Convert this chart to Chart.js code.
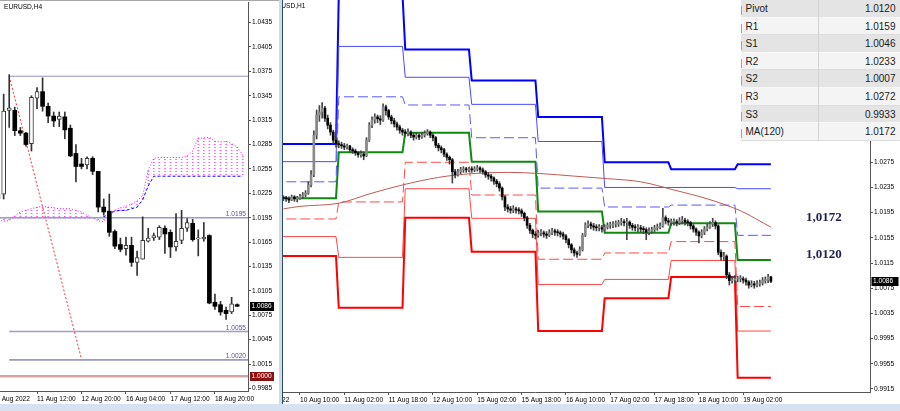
<!DOCTYPE html>
<html lang="en">
<head>
<meta charset="utf-8">
<title>EURUSD H4 / H1 pivot levels</title>
<script src="https://cdn.jsdelivr.net/npm/chart.js@4.4.1/dist/chart.umd.min.js"></script>
<style>
    html, body { margin: 0; padding: 0; }
    body { position: relative; width: 900px; height: 411px; overflow: hidden; background: #fff; font-family: "Liberation Sans", Arial, sans-serif; }
    canvas { display: block; }
    .panel { position: absolute; top: 0; height: 404px; }
    #h1Panel { left: 200px; width: 700px; z-index: 1; }
    #h4Panel { left: 0; width: 279px; background: #fff; z-index: 2; }
    #h4Top { position: absolute; left: 0; top: 0; width: 279px; height: 1px; background: #a8a8a8; z-index: 3; }
    #split { position: absolute; left: 279px; top: 0; width: 3px; height: 404px; background: #cfdbe7; z-index: 3; }
    #splitEdge { position: absolute; left: 282px; top: 0; width: 1px; height: 404px; background: #2d4e70; z-index: 3; }
    #frameBottom { position: absolute; left: 0; top: 404px; width: 900px; height: 7px; background: #d6e2ef; z-index: 3; }
    #levels { position: absolute; left: 741px; top: 0; width: 159px; z-index: 4; font-size: 10px; color: #1b1b1b; }
    #levels .row { position: relative; height: 17.6px; line-height: 17.6px; background: #e4e4e4; box-shadow: inset 0 -1px 0 #f7f7f7; }
    #levels .row.alt { background: #f4f4f4; box-shadow: inset 0 -1px 0 #dcdcdc; }
    #levels .mark { position: absolute; left: 0; top: 6px; width: 1px; height: 9px; background: #c9a23a; }
    #levels .name { position: absolute; left: 4.5px; }
    #levels .val { position: absolute; right: 4.5px; }
    #levels .sep { position: absolute; left: 77px; top: 0; width: 1px; height: 100%; background: #d2d2d2; }
</style>
</head>
<body>
<div id="h1Panel" class="panel"><canvas id="h1Chart" width="700" height="404"></canvas></div>
<div id="h4Panel" class="panel"><canvas id="h4Chart" width="279" height="404"></canvas></div>
<div id="h4Top"></div>
<div id="split"></div>
<div id="splitEdge"></div>
<div id="frameBottom"></div>
<div id="levels"></div>
<script>
(() => {
    'use strict';

    // ---- H4 panel (bar 0 = 10 Aug 08:00) ----
    const h4Open = [1.0218, 1.0224, 1.0327, 1.0327, 1.0302, 1.0299, 1.0286, 1.0342, 1.0350, 1.0332, 1.0320, 1.0316, 1.0319, 1.0305, 1.0274, 1.0261, 1.0260, 1.0268, 1.0252, 1.0208, 1.0203, 1.0178, 1.0162, 1.0157, 1.0161, 1.0140, 1.0144, 1.0166, 1.0170, 1.0171, 1.0182, 1.0177, 1.0159, 1.0167, 1.0182, 1.0188, 1.0169, 1.0169, 1.0173, 1.0091, 1.0088, 1.0081, 1.0079, 1.0088];
    const h4High = [1.0226, 1.0347, 1.0371, 1.0331, 1.0306, 1.0300, 1.0345, 1.0355, 1.0367, 1.0336, 1.0325, 1.0325, 1.0325, 1.0309, 1.0285, 1.0268, 1.0270, 1.0270, 1.0252, 1.0218, 1.0224, 1.0180, 1.0170, 1.0171, 1.0171, 1.0154, 1.0196, 1.0182, 1.0176, 1.0185, 1.0185, 1.0180, 1.0200, 1.0204, 1.0194, 1.0193, 1.0180, 1.0189, 1.0174, 1.0101, 1.0092, 1.0085, 1.0097, 1.0089];
    const h4Low = [1.0212, 1.0218, 1.0306, 1.0296, 1.0296, 1.0283, 1.0277, 1.0329, 1.0326, 1.0312, 1.0307, 1.0307, 1.0292, 1.0270, 1.0239, 1.0255, 1.0255, 1.0248, 1.0202, 1.0198, 1.0172, 1.0157, 1.0153, 1.0149, 1.0135, 1.0124, 1.0144, 1.0165, 1.0167, 1.0168, 1.0151, 1.0146, 1.0154, 1.0163, 1.0178, 1.0166, 1.0148, 1.0166, 1.0089, 1.0082, 1.0075, 1.0070, 1.0077, 1.0086];
    const h4Close = [1.0224, 1.0326, 1.0330, 1.0302, 1.0299, 1.0285, 1.0343, 1.0350, 1.0332, 1.0320, 1.0314, 1.0320, 1.0303, 1.0271, 1.0258, 1.0258, 1.0268, 1.0252, 1.0208, 1.0202, 1.0177, 1.0160, 1.0156, 1.0161, 1.0140, 1.0146, 1.0167, 1.0170, 1.0173, 1.0183, 1.0175, 1.0159, 1.0166, 1.0182, 1.0189, 1.0168, 1.0169, 1.0171, 1.0090, 1.0086, 1.0079, 1.0077, 1.0089, 1.0086];
    const kumoSpanA = [1.0192, 1.0191, 1.0191, 1.0197, 1.0202, 1.0204, 1.0206, 1.0208, 1.0209, 1.0208, 1.0207, 1.0206, 1.0206, 1.0206, 1.0204, 1.0202, 1.0198, 1.0195, 1.0191, 1.0190, 1.0200, 1.0204, 1.0207, 1.0209, 1.0212, 1.0216, 1.0222, 1.0254, 1.0268, 1.0269, 1.0269, 1.0269, 1.0269, 1.0269, 1.0271, 1.0277, 1.0293, 1.0293, 1.0294, 1.0289, 1.0288, 1.0289, 1.0286, 1.0282, 1.0272];
    const kumoSpanB = [1.0195, 1.0195, 1.0195, 1.0195, 1.0195, 1.0195, 1.0195, 1.0195, 1.0195, 1.0195, 1.0195, 1.0195, 1.0195, 1.0195, 1.0195, 1.0195, 1.0195, 1.0195, 1.0195, 1.0196, 1.0200, 1.0203, 1.0204, 1.0204, 1.0206, 1.0208, 1.0217, 1.0234, 1.0246, 1.0246, 1.0246, 1.0246, 1.0246, 1.0246, 1.0246, 1.0246, 1.0246, 1.0246, 1.0246, 1.0246, 1.0246, 1.0246, 1.0246, 1.0246, 1.0246];
    const h4TimeTicks = [-1, 7, 15, 23, 31, 39];
    const h4TimeLabels = ['10 Aug 2022', '11 Aug 12:00', '12 Aug 20:00', '16 Aug 04:00', '17 Aug 12:00', '18 Aug 20:00'];
    const h4PriceTicks = [0.9985, 1.0015, 1.0045, 1.0075, 1.0105, 1.0135, 1.0165, 1.0195, 1.0225, 1.0255, 1.0285, 1.0315, 1.0345, 1.0375, 1.0405, 1.0435];
    const h4LevelPrices = [1.0369, 1.0195, 1.0055, 1.0020, 1.0000];
    const h4LevelFromBar = [2, -1, 2, 2, -1];
    const h4LevelTags = ['', '1.0195', '1.0055', '1.0020', ''];
    const h4TrendBars = [2, 15];
    const h4TrendPrices = [1.0369, 1.0021];
    const h4LastPrice = 1.0086;
    const h4MarkedPrice = 1.0000;

    // ---- H1 panel (bar 0 = 10 Aug 00:00, weekend skipped) ----
    const h1FirstBar = 4;
    const h1FirstOpen = 1.0219;
    const h1Close = [
        1.0218, 1.0217, 1.0215, 1.0220, 1.0217, 1.0218, 1.0221, 1.0223, 1.0226, 1.0239,
        1.0255, 1.0318, 1.0350, 1.0355, 1.0361, 1.0345, 1.0334, 1.0323, 1.0310, 1.0304,
        1.0303, 1.0301, 1.0299, 1.0301, 1.0295, 1.0293, 1.0290, 1.0287, 1.0288, 1.0285,
        1.0310, 1.0334, 1.0342, 1.0347, 1.0344, 1.0342, 1.0363, 1.0357, 1.0347, 1.0341,
        1.0336, 1.0331, 1.0326, 1.0323, 1.0321, 1.0323, 1.0318, 1.0315, 1.0318, 1.0315,
        1.0318, 1.0321, 1.0323, 1.0318, 1.0314, 1.0302, 1.0298, 1.0295, 1.0288, 1.0283,
        1.0279, 1.0260, 1.0255, 1.0260, 1.0263, 1.0264, 1.0263, 1.0264, 1.0263, 1.0264,
        1.0266, 1.0263, 1.0260, 1.0255, 1.0253, 1.0250, 1.0245, 1.0241, 1.0234, 1.0220,
        1.0204, 1.0201, 1.0199, 1.0201, 1.0199, 1.0198, 1.0194, 1.0187, 1.0175, 1.0167,
        1.0161, 1.0159, 1.0163, 1.0163, 1.0161, 1.0159, 1.0163, 1.0166, 1.0164, 1.0163,
        1.0161, 1.0158, 1.0152, 1.0144, 1.0136, 1.0131, 1.0129, 1.0136, 1.0159, 1.0175,
        1.0177, 1.0174, 1.0172, 1.0171, 1.0171, 1.0169, 1.0172, 1.0175, 1.0175, 1.0177,
        1.0177, 1.0179, 1.0180, 1.0179, 1.0180, 1.0175, 1.0172, 1.0171, 1.0171, 1.0169,
        1.0168, 1.0164, 1.0166, 1.0168, 1.0171, 1.0172, 1.0174, 1.0187, 1.0182, 1.0180,
        1.0180, 1.0180, 1.0179, 1.0182, 1.0183, 1.0180, 1.0179, 1.0174, 1.0169, 1.0164,
        1.0158, 1.0164, 1.0169, 1.0172, 1.0177, 1.0179, 1.0174, 1.0132, 1.0125, 1.0126,
        1.0096, 1.0087, 1.0088, 1.0090, 1.0090, 1.0090, 1.0088, 1.0085, 1.0080, 1.0082,
        1.0080, 1.0082, 1.0083, 1.0087, 1.0088, 1.0093, 1.0086,
    ];
    const h1High = [
        1.0222, 1.0221, 1.0220, 1.0223, 1.0222, 1.0221, 1.0224, 1.0227, 1.0230, 1.0244,
        1.0262, 1.0325, 1.0358, 1.0365, 1.0370, 1.0364, 1.0350, 1.0338, 1.0326, 1.0314,
        1.0309, 1.0307, 1.0305, 1.0304, 1.0302, 1.0298, 1.0296, 1.0292, 1.0293, 1.0291,
        1.0314, 1.0338, 1.0347, 1.0352, 1.0350, 1.0349, 1.0368, 1.0366, 1.0359, 1.0350,
        1.0345, 1.0339, 1.0334, 1.0329, 1.0327, 1.0328, 1.0325, 1.0321, 1.0322, 1.0320,
        1.0322, 1.0325, 1.0327, 1.0325, 1.0320, 1.0316, 1.0305, 1.0301, 1.0297, 1.0290,
        1.0285, 1.0281, 1.0264, 1.0264, 1.0267, 1.0268, 1.0267, 1.0267, 1.0268, 1.0268,
        1.0270, 1.0268, 1.0266, 1.0262, 1.0259, 1.0256, 1.0252, 1.0248, 1.0244, 1.0236,
        1.0222, 1.0208, 1.0205, 1.0206, 1.0204, 1.0203, 1.0201, 1.0196, 1.0189, 1.0178,
        1.0169, 1.0165, 1.0167, 1.0168, 1.0166, 1.0165, 1.0168, 1.0170, 1.0169, 1.0168,
        1.0166, 1.0164, 1.0160, 1.0154, 1.0146, 1.0139, 1.0134, 1.0141, 1.0162, 1.0179,
        1.0182, 1.0180, 1.0178, 1.0176, 1.0176, 1.0175, 1.0176, 1.0179, 1.0180, 1.0181,
        1.0182, 1.0183, 1.0186, 1.0184, 1.0186, 1.0182, 1.0178, 1.0176, 1.0176, 1.0175,
        1.0173, 1.0171, 1.0171, 1.0172, 1.0175, 1.0177, 1.0179, 1.0202, 1.0190, 1.0186,
        1.0185, 1.0185, 1.0184, 1.0187, 1.0189, 1.0186, 1.0184, 1.0181, 1.0176, 1.0171,
        1.0166, 1.0168, 1.0173, 1.0177, 1.0181, 1.0186, 1.0182, 1.0176, 1.0136, 1.0132,
        1.0128, 1.0100, 1.0094, 1.0095, 1.0094, 1.0095, 1.0093, 1.0091, 1.0087, 1.0087,
        1.0086, 1.0087, 1.0088, 1.0092, 1.0093, 1.0097, 1.0094,
    ];
    const h1Low = [
        1.0214, 1.0213, 1.0211, 1.0214, 1.0213, 1.0212, 1.0216, 1.0218, 1.0220, 1.0224,
        1.0236, 1.0252, 1.0312, 1.0340, 1.0345, 1.0340, 1.0328, 1.0318, 1.0305, 1.0299,
        1.0298, 1.0297, 1.0295, 1.0296, 1.0291, 1.0289, 1.0286, 1.0283, 1.0283, 1.0279,
        1.0284, 1.0308, 1.0330, 1.0337, 1.0338, 1.0335, 1.0340, 1.0350, 1.0343, 1.0336,
        1.0331, 1.0326, 1.0321, 1.0318, 1.0316, 1.0317, 1.0314, 1.0310, 1.0312, 1.0311,
        1.0313, 1.0315, 1.0318, 1.0314, 1.0309, 1.0298, 1.0293, 1.0290, 1.0284, 1.0278,
        1.0272, 1.0242, 1.0250, 1.0253, 1.0257, 1.0259, 1.0259, 1.0260, 1.0259, 1.0260,
        1.0261, 1.0259, 1.0256, 1.0251, 1.0248, 1.0245, 1.0240, 1.0236, 1.0229, 1.0215,
        1.0198, 1.0196, 1.0194, 1.0195, 1.0194, 1.0193, 1.0189, 1.0182, 1.0170, 1.0162,
        1.0155, 1.0153, 1.0156, 1.0158, 1.0156, 1.0154, 1.0157, 1.0160, 1.0159, 1.0158,
        1.0156, 1.0153, 1.0147, 1.0139, 1.0131, 1.0126, 1.0124, 1.0127, 1.0134, 1.0157,
        1.0171, 1.0169, 1.0167, 1.0166, 1.0166, 1.0164, 1.0166, 1.0169, 1.0170, 1.0171,
        1.0172, 1.0173, 1.0175, 1.0174, 1.0152, 1.0170, 1.0167, 1.0166, 1.0165, 1.0164,
        1.0162, 1.0152, 1.0160, 1.0162, 1.0165, 1.0167, 1.0169, 1.0172, 1.0177, 1.0175,
        1.0175, 1.0175, 1.0174, 1.0176, 1.0177, 1.0175, 1.0174, 1.0169, 1.0164, 1.0159,
        1.0147, 1.0155, 1.0160, 1.0166, 1.0170, 1.0173, 1.0169, 1.0128, 1.0119, 1.0119,
        1.0090, 1.0080, 1.0083, 1.0084, 1.0085, 1.0085, 1.0083, 1.0080, 1.0075, 1.0077,
        1.0075, 1.0077, 1.0078, 1.0080, 1.0083, 1.0084, 1.0084,
    ];
    // days: 10, 11, 12, 15, 16, 17, 18, 19 Aug
    const dayFirstBar = [0, 24, 48, 72, 96, 120, 144, 168];
    const dayLastBar = [23, 47, 71, 95, 119, 143, 167, 180];
    const pivotR3 = [1.0304, 1.0542, 1.0454, 1.0405, 1.0347, 1.0275, 1.0264, 1.0272];
    const pivotR2 = [1.0276, 1.0459, 1.0410, 1.0367, 1.0308, 1.0235, 1.0235, 1.0233];
    const pivotR1 = [1.0244, 1.0379, 1.0366, 1.0314, 1.0234, 1.0204, 1.0207, 1.0159];
    const pivotP = [1.0218, 1.0291, 1.0322, 1.0276, 1.0197, 1.0163, 1.0178, 1.0120];
    const pivotS1 = [1.0185, 1.0212, 1.0275, 1.0223, 1.0121, 1.0131, 1.0149, 1.0046];
    const pivotS2 = [1.0157, 1.0124, 1.0233, 1.0186, 1.0081, 1.0089, 1.0119, 1.0007];
    const pivotS3 = [1.0126, 1.0044, 1.0187, 1.0133, 1.0007, 1.0059, 1.0093, 0.9933];
    const maBars = [4, 10, 24, 36, 47, 60, 72, 85, 97, 109, 121, 133, 145, 157, 169, 180];
    const maValues = [1.0201, 1.0205, 1.0210, 1.0226, 1.0239, 1.0251, 1.0257, 1.0259, 1.0257, 1.0253, 1.0249, 1.0244, 1.0231, 1.0217, 1.0198, 1.0172];
    const h1TimeTicks = [-6, 10, 26, 42, 58, 74, 90, 106, 122, 138, 154, 170];
    const h1TimeLabels = ['9 Aug 2022', '10 Aug 10:00', '11 Aug 02:00', '11 Aug 18:00', '12 Aug 10:00', '15 Aug 02:00', '15 Aug 18:00', '16 Aug 10:00', '17 Aug 02:00', '17 Aug 18:00', '18 Aug 10:00', '19 Aug 02:00'];
    const h1PriceTicks = [0.9915, 0.9955, 0.9995, 1.0035, 1.0075, 1.0115, 1.0155, 1.0195, 1.0235, 1.0275, 1.0315, 1.0355, 1.0395, 1.0435, 1.0475, 1.0515];
    const h1LastPrice = 1.0086;
    const noteTexts = ['1,0172', '1,0120'];
    const notePrices = [1.0187, 1.0129];
    const noteBar = 192.7;
    const tableNames = ['Pivot', 'R1', 'S1', 'R2', 'S2', 'R3', 'S3', 'MA(120)'];
    const tableValues = ['1.0120', '1.0159', '1.0046', '1.0233', '1.0007', '1.0272', '0.9933', '1.0172'];

    const tickFont = { family: 'Liberation Sans', size: 6.6 };
    const fontCss = '6.6px "Liberation Sans"';

    const candles = (firstBar, open, high, low, close) => {
        const wicks = [];
        const up = [];
        const down = [];
        close.forEach((c, i) => {
            const x = firstBar + i;
            const o = open[i];
            wicks.push({ x, y: [low[i], high[i]] });
            (c >= o ? up : down).push({ x, y: [Math.min(o, c), Math.max(o, c)] });
        });
        return { wicks, up, down };
    };

    const bars = (data, color, thickness, extra = {}) => ({
        type: 'bar',
        data,
        backgroundColor: color,
        barThickness: thickness,
        grouped: false,
        minBarLength: 1,
        borderWidth: 0,
        borderSkipped: false,
        ...extra,
    });

    const line = (data, color, width, dash = [], extra = {}) => ({
        type: 'line',
        data,
        borderColor: color,
        borderWidth: width,
        borderDash: dash,
        pointRadius: 0,
        fill: false,
        tension: 0,
        ...extra,
    });

    const timeAxis = (min, max, ticksAt, labels, height) => ({
        type: 'linear',
        position: 'bottom',
        min,
        max,
        offset: false,
        grid: { offset: false, drawOnChartArea: false, drawTicks: true, tickLength: 3, tickColor: '#555' },
        border: { display: true, color: '#555', width: 1 },
        ticks: { font: tickFont, color: '#000', padding: 1, align: 'start', maxRotation: 0, autoSkip: false, callback: (_value, index) => labels[index] },
        afterBuildTicks: (scale) => { scale.ticks = ticksAt.map((value) => ({ value })); },
        afterFit: (scale) => { scale.height = height; scale.paddingLeft = 0; scale.paddingRight = 0; },
    });

    const priceAxis = (min, max, ticksAt, width) => ({
        type: 'linear',
        position: 'right',
        min,
        max,
        grid: { drawOnChartArea: false, drawTicks: true, tickLength: 3, tickColor: '#555' },
        border: { display: true, color: '#555', width: 1 },
        ticks: { font: tickFont, color: '#000', padding: 1, autoSkip: false, callback: (value) => Number(value).toFixed(4) },
        afterBuildTicks: (scale) => { scale.ticks = ticksAt.map((value) => ({ value })); },
        afterFit: (scale) => { scale.width = width; scale.paddingTop = 0; scale.paddingBottom = 0; },
    });

    const priceBadge = (ctx, yScale, left, width, price, color) => {
        const y = yScale.getPixelForValue(price);
        ctx.fillStyle = color;
        ctx.fillRect(left, Math.round(y - 4.5), width, 9);
        ctx.fillStyle = '#fff';
        ctx.textAlign = 'left';
        ctx.textBaseline = 'middle';
        ctx.fillText(price.toFixed(4), left + 1.5, y);
    };

    const baseOptions = (padTop, scales) => ({
        responsive: false,
        animation: false,
        events: [],
        layout: { padding: { top: padTop, left: 0, right: 0, bottom: 0 } },
        plugins: { legend: { display: false }, tooltip: { enabled: false } },
        scales,
    });

    // ---- H4 chart ----
    const h4Canvas = document.getElementById('h4Chart');
    const hatch = (() => {
        const tile = document.createElement('canvas');
        tile.width = 1;
        tile.height = 3;
        const g = tile.getContext('2d');
        g.fillStyle = 'rgba(255, 60, 255, 0.85)';
        g.fillRect(0, 0, 1, 1);
        return h4Canvas.getContext('2d').createPattern(tile, 'repeat');
    })();

    const h4Candles = candles(0, h4Open, h4High, h4Low, h4Close);
    const kumoHatch = kumoSpanA.map((a, i) => ({ x: i, y: [Math.min(a, kumoSpanB[i]), Math.max(a, kumoSpanB[i])] }));

    const h4Overlay = {
        id: 'h4Overlay',
        afterDraw(chart) {
            const { ctx, chartArea, scales } = chart;
            const y = scales.y;
            ctx.save();
            ctx.font = fontCss;
            ctx.fillStyle = '#000';
            ctx.textBaseline = 'middle';
            ctx.fillText('EURUSD,H4', 4, 7);
            ctx.textAlign = 'right';
            ctx.textBaseline = 'bottom';
            ctx.fillStyle = '#55559a';
            h4LevelTags.forEach((tag, i) => {
                if (tag) ctx.fillText(tag, chartArea.right - 2, y.getPixelForValue(h4LevelPrices[i]) - 0.5);
            });
            priceBadge(ctx, y, chartArea.right + 2, 24, h4LastPrice, '#000');
            priceBadge(ctx, y, chartArea.right + 2, 24, h4MarkedPrice, '#8a1111');
            ctx.restore();
        },
    };

    const h4LevelColors = ['#9292c8', '#9a9acb', '#9c9cd0', '#4b4b9b', '#d4a3a3'];
    const h4LevelWidths = [1, 1.5, 1.5, 1, 2.5];

    new Chart(h4Canvas, {
        type: 'line',
        data: {
            datasets: [
                bars(h4Candles.up, '#fff', 4, { borderWidth: 1, borderColor: '#3a3a3a', order: 0 }),
                bars(h4Candles.down, '#000', 4, { order: 0 }),
                bars(h4Candles.wicks, '#333', 1, { order: 1 }),
                line(h4TrendBars.map((x, i) => ({ x, y: h4TrendPrices[i] })), '#ff3030', 1, [2, 2], { order: 2 }),
                ...h4LevelPrices.map((price, i) => line(
                    [{ x: h4LevelFromBar[i], y: price }, { x: 46, y: price }],
                    h4LevelColors[i], h4LevelWidths[i], [], { order: 3 },
                )),
                line(kumoSpanA.map((y, x) => ({ x, y })), '#ff00ff', 1, [1, 2], { order: 4 }),
                line(kumoSpanB.map((y, x) => ({ x, y })), '#0000ff', 1, [3, 2], { order: 4 }),
                bars(kumoHatch, hatch, 1, { minBarLength: 0, order: 5 }),
            ],
        },
        options: baseOptions(2, {
            x: timeAxis(0.3417, 44.946, h4TimeTicks, h4TimeLabels, 13),
            y: priceAxis(0.99818, 1.04603, h4PriceTicks, 31),
        }),
        plugins: [h4Overlay],
    });

    // ---- H1 chart ----
    const h1Open = h1Close.map((_c, i) => (i ? h1Close[i - 1] : h1FirstOpen));
    const h1Candles = candles(h1FirstBar, h1Open, h1High, h1Low, h1Close);
    const dailySteps = (levels) => levels.flatMap((value, d) => [
        { x: dayFirstBar[d], y: value },
        { x: dayLastBar[d], y: value },
    ]);

    const h1Overlay = {
        id: 'h1Overlay',
        afterDraw(chart) {
            const { ctx, chartArea, scales } = chart;
            const y = scales.y;
            ctx.save();
            ctx.font = fontCss;
            ctx.fillStyle = '#000';
            ctx.textBaseline = 'middle';
            ctx.fillText('EURUSD,H1', 67.3, 6.5);
            ctx.font = 'bold 13px "Liberation Serif"';
            ctx.fillStyle = '#1e1e52';
            noteTexts.forEach((text, i) => {
                ctx.fillText(text, scales.x.getPixelForValue(noteBar), y.getPixelForValue(notePrices[i]));
            });
            ctx.font = fontCss;
            priceBadge(ctx, y, chartArea.right + 1.5, 27, h1LastPrice, '#000');
            ctx.restore();
        },
    };

    new Chart(document.getElementById('h1Chart'), {
        type: 'line',
        data: {
            datasets: [
                bars(h1Candles.up, '#8a8a8a', 2, { order: 0 }),
                bars(h1Candles.down, '#000', 2, { order: 0 }),
                bars(h1Candles.wicks, '#444', 1, { order: 1 }),
                line(maBars.map((x, i) => ({ x, y: maValues[i] })), '#bf5a55', 1, [], { cubicInterpolationMode: 'monotone', order: 2 }),
                line(dailySteps(pivotS3), '#ff0000', 2, [], { order: 3 }),
                line(dailySteps(pivotS2), '#ff4848', 1, [], { order: 3 }),
                line(dailySteps(pivotS1), '#ff4a4a', 1, [10, 4], { order: 3 }),
                line(dailySteps(pivotR1), '#5a5aff', 1, [10, 4], { order: 3 }),
                line(dailySteps(pivotR2), '#4a4aff', 1, [], { order: 3 }),
                line(dailySteps(pivotR3), '#0000ff', 2, [], { order: 3 }),
                line(dailySteps(pivotP), '#118811', 2, [], { order: 3 }),
            ],
        },
        options: baseOptions(0, {
            x: timeAxis(-26.1, 215.78, h1TimeTicks, h1TimeLabels, 12),
            y: priceAxis(0.99102, 1.05327, h1PriceTicks, 30),
        }),
        plugins: [h1Overlay],
    });

    // ---- level table ----
    const table = document.getElementById('levels');
    tableNames.forEach((name, i) => {
        const row = document.createElement('div');
        row.className = i % 2 ? 'row alt' : 'row';
        row.innerHTML = `<span class="mark"></span><span class="sep"></span><span class="name">${name}</span><span class="val">${tableValues[i]}</span>`;
        table.appendChild(row);
    });
})();
</script>
</body>
</html>
